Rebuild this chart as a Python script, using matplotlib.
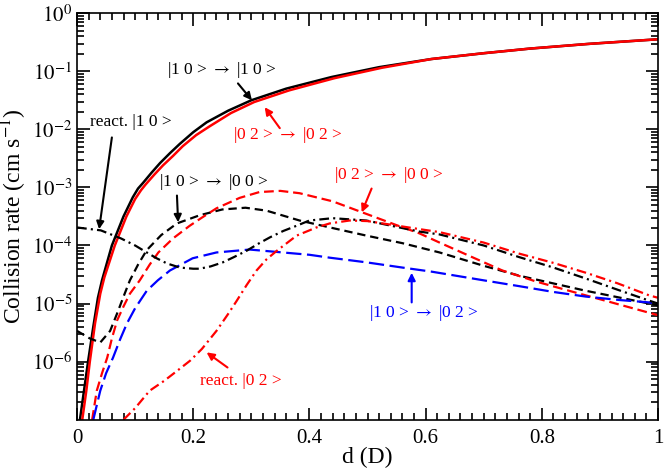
import numpy as np
import matplotlib
matplotlib.use('Agg')
import matplotlib.pyplot as plt

plt.rcParams['font.family'] = ['Liberation Serif', 'DejaVu Serif']
plt.rcParams['mathtext.fontset'] = 'stix'
plt.rcParams['lines.scale_dashes'] = False

# дані: d (D) та log10(швидкість зіткнень)
d_10_10 = [0.005, 0.012, 0.019, 0.028, 0.036, 0.043, 0.06, 0.08, 0.096, 0.105, 0.113, 0.128, 0.143,
           0.16, 0.177, 0.2, 0.223, 0.26, 0.30, 0.36, 0.438, 0.52, 0.61, 0.70, 0.78, 0.88, 1.0]
lg_10_10 = [-7, -6.5, -6.0, -5.4, -4.9, -4.6, -4.0, -3.5, -3.17, -3.02, -2.93, -2.75, -2.58,
            -2.41, -2.25, -2.05, -1.88, -1.68, -1.5, -1.3, -1.10, -0.93, -0.79, -0.69, -0.61, -0.53, -0.45]

d_02_02 = [0.009, 0.016, 0.022, 0.031, 0.040, 0.047, 0.065, 0.085, 0.10, 0.11, 0.118, 0.133, 0.148,
           0.165, 0.182, 0.205, 0.228, 0.265, 0.305, 0.365, 0.443, 0.525, 0.61, 0.70, 0.78, 0.88, 1.0]
lg_02_02 = [-7, -6.5, -6.0, -5.34, -4.83, -4.55, -4.0, -3.5, -3.2, -3.05, -2.95, -2.78, -2.62,
            -2.46, -2.29, -2.1, -1.95, -1.72, -1.53, -1.33, -1.12, -0.94, -0.79, -0.69, -0.61, -0.53, -0.45]

d_10_00 = [0.0, 0.022, 0.040, 0.057, 0.069, 0.082, 0.091, 0.105, 0.12, 0.145, 0.172, 0.211,
           0.25, 0.29, 0.326, 0.383, 0.44, 0.498, 0.56, 0.624, 0.70, 0.761, 0.876, 0.985, 1.0]
lg_10_00 = [-5.47, -5.6, -5.67, -5.47, -5.17, -4.83, -4.6, -4.33, -4.08, -3.82, -3.62, -3.48,
            -3.38, -3.35, -3.40, -3.57, -3.70, -3.83, -3.96, -4.12, -4.35, -4.52, -4.78, -5.0, -5.03]

d_02_00 = [0.026, 0.034, 0.043, 0.052, 0.06, 0.069, 0.08, 0.091, 0.108, 0.125, 0.14, 0.165,
           0.194, 0.215, 0.24, 0.28, 0.314, 0.35, 0.383, 0.44, 0.491, 0.55, 0.589, 0.624,
           0.68, 0.732, 0.79, 0.847, 0.92, 1.0]
lg_02_00 = [-7, -6.5, -6.2, -5.93, -5.6, -5.29, -5.05, -4.83, -4.6, -4.33, -4.12, -3.88,
            -3.66, -3.52, -3.36, -3.18, -3.08, -3.06, -3.10, -3.24, -3.43, -3.65, -3.79, -3.95,
            -4.2, -4.43, -4.62, -4.78, -4.98, -5.2]

d_10_02 = [0.028, 0.040, 0.050, 0.062, 0.074, 0.086, 0.10, 0.12, 0.139, 0.16, 0.199, 0.24,
           0.297, 0.354, 0.40, 0.435, 0.498, 0.56, 0.61, 0.70, 0.761, 0.82, 0.876, 0.935, 0.985, 1.0]
lg_10_02 = [-7, -6.5, -6.2, -5.93, -5.62, -5.34, -5.08, -4.78, -4.6, -4.43, -4.22, -4.12,
            -4.07, -4.12, -4.16, -4.21, -4.29, -4.38, -4.45, -4.6, -4.7, -4.8, -4.88, -4.94, -4.98, -5.0]

d_react_10 = [0.0, 0.041, 0.076, 0.10, 0.12, 0.137, 0.155, 0.177, 0.2, 0.211, 0.23, 0.251, 0.27,
              0.292, 0.312, 0.332, 0.355, 0.378, 0.40, 0.44, 0.498, 0.555, 0.589, 0.624, 0.70,
              0.761, 0.82, 0.876, 0.93, 0.985, 1.0]
lg_react_10 = [-3.69, -3.74, -3.88, -4.0, -4.12, -4.22, -4.31, -4.38, -4.40, -4.40, -4.36, -4.29, -4.2,
               -4.09, -3.97, -3.86, -3.75, -3.66, -3.57, -3.53, -3.57, -3.69, -3.76, -3.81, -4.0,
               -4.2, -4.38, -4.57, -4.76, -4.95, -5.0]

d_react_02 = [0.08, 0.10, 0.125, 0.15, 0.172, 0.195, 0.215, 0.24, 0.26, 0.275, 0.292, 0.309, 0.326,
              0.344, 0.378, 0.412, 0.435, 0.469, 0.5, 0.526, 0.584, 0.624, 0.70, 0.761, 0.82,
              0.876, 0.93, 0.985, 1.0]
lg_react_02 = [-7, -6.8, -6.5, -6.33, -6.16, -5.98, -5.78, -5.47, -5.18, -4.95, -4.68, -4.43, -4.24,
               -4.09, -3.83, -3.69, -3.62, -3.57, -3.58, -3.62, -3.71, -3.77, -3.95, -4.14, -4.3,
               -4.47, -4.65, -4.86, -4.9]

fig = plt.figure(figsize=(6.64, 4.69), dpi=100)
ax = fig.add_axes([0.116, 0.105, 0.875, 0.867])

lw = 1.6
ax.plot(d_10_10, 10 ** np.array(lg_10_10), color='black', lw=lw + 0.2)
ax.plot(d_02_02, 10 ** np.array(lg_02_02), color='red', lw=lw + 0.2)
ax.plot(d_10_00, 10 ** np.array(lg_10_00), color='black', lw=lw, dashes=(6, 3.5))
ax.plot(d_02_00, 10 ** np.array(lg_02_00), color='red', lw=lw, dashes=(7, 3.5))
ax.plot(d_10_02, 10 ** np.array(lg_10_02), color='blue', lw=lw, dashes=(11, 4))
ax.plot(d_react_10, 10 ** np.array(lg_react_10), color='black', lw=lw, dashes=(7, 3, 1.5, 3))
ax.plot(d_react_02, 10 ** np.array(lg_react_02), color='red', lw=lw, dashes=(7, 3, 1.5, 3))

ax.set_yscale('log')
ax.set_xlim(0, 1)
ax.set_ylim(1e-7, 1)
ax.set_xticks([0, 0.2, 0.4, 0.6, 0.8, 1])
ax.set_xticklabels(['0', '0.2', '0.4', '0.6', '0.8', '1'])
ax.set_xticks(np.arange(0, 1.001, 0.02), minor=True)
ax.set_yticks([1e-6, 1e-5, 1e-4, 1e-3, 1e-2, 1e-1, 1e0])
ax.set_yticklabels([r'$10^{%d}$' % k for k in range(-6, 1)])
ax.tick_params(which='both', direction='in', top=True, right=True, labelsize=15, width=1.2)
ax.tick_params(which='major', length=9)
ax.tick_params(which='minor', length=5)
ax.tick_params(axis='x', pad=7)
for s in ax.spines.values():
    s.set_linewidth(1.2)

ax.set_xlabel('d (D)', fontsize=17, labelpad=-1)
ax.set_ylabel(r'Collision rate (cm s$^{-1}$)', fontsize=17, labelpad=2)

# підписи зі стрілками
fs = 12.5
arr = dict(arrowstyle='-|>', lw=1.5, mutation_scale=11, shrinkA=0, shrinkB=0)

def note(text, tx, ty, tail, head, color):
    ax.text(tx, 10 ** ty, text, color=color, fontsize=fs, ha='left', va='center')
    ax.annotate('', xy=(head[0], 10 ** head[1]), xytext=(tail[0], 10 ** tail[1]),
                arrowprops=dict(arr, color=color))

to = r' $\rightarrow$ '
note('|1 0 >' + to + '|1 0 >', 0.155, -0.98, (0.277, -1.21), (0.301, -1.50), 'black')
note('|0 2 >' + to + '|0 2 >', 0.268, -2.10, (0.349, -1.98), (0.323, -1.62), 'red')
note('react. |1 0 >', 0.022, -1.88, (0.060, -2.14), (0.038, -3.72), 'black')
note('|1 0 >' + to + '|0 0 >', 0.141, -2.91, (0.172, -3.14), (0.174, -3.60), 'black')
note('|0 2 >' + to + '|0 0 >', 0.443, -2.79, (0.507, -3.02), (0.49, -3.43), 'red')
note('|1 0 >' + to + '|0 2 >', 0.502, -5.17, (0.576, -4.98), (0.576, -4.47), 'blue')
note('react. |0 2 >', 0.211, -6.33, (0.259, -6.10), (0.223, -5.84), 'red')

plt.savefig('out.png', dpi=100)
